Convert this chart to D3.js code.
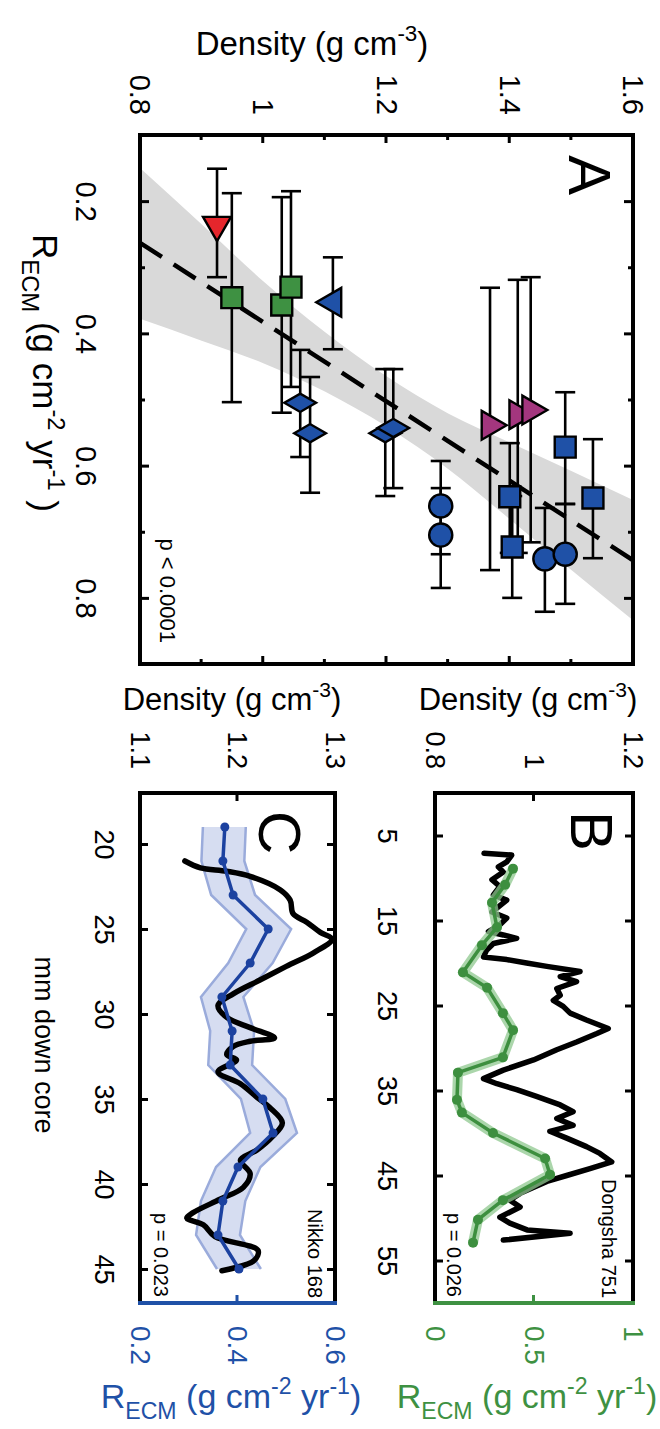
<!DOCTYPE html>
<html>
<head>
<meta charset="utf-8">
<script src="https://cdn.jsdelivr.net/npm/d3@7"></script>
<style>
  body { margin: 0; background: #fff; }
  text { font-family: "Liberation Sans", Arial, Helvetica, sans-serif; }
</style>
</head>
<body>
<svg id="fig" width="660" height="1429"></svg>
<script>
// ---------- panel A : R_ECM vs density, one point per core ----------
const denA   = [0.925, 0.949, 1.030, 1.045, 1.113, 1.060, 1.076, 1.198, 1.211, 1.288, 1.288, 1.368, 1.413, 1.434, 1.490, 1.535, 1.400, 1.404, 1.457, 1.490];
const rA     = [0.236, 0.346, 0.357, 0.330, 0.353, 0.505, 0.551, 0.551, 0.543, 0.661, 0.705, 0.539, 0.523, 0.516, 0.572, 0.649, 0.647, 0.723, 0.741, 0.734];
const rLoA   = [0.151, 0.188, 0.194, 0.185, 0.285, 0.425, 0.466, 0.454, 0.454, 0.593, 0.634, 0.331, 0.319, 0.315, 0.489, 0.560, 0.566, 0.646, 0.664, 0.658];
const rHiA   = [0.315, 0.504, 0.520, 0.481, 0.424, 0.587, 0.641, 0.646, 0.634, 0.734, 0.785, 0.758, 0.732, 0.716, 0.658, 0.740, 0.732, 0.800, 0.821, 0.809];
const shapeA = ["triD", "sq", "sq", "sq", "triL", "dia", "dia", "dia", "dia", "circ", "circ", "triR", "triR", "triR", "sq", "sq", "sq", "sq", "circ", "circ"];
const colorA = ["red", "green", "green", "green", "blue", "blue", "blue", "blue", "blue", "blue", "blue", "purple", "purple", "purple", "blue", "blue", "blue", "blue", "blue", "blue"];

// regression line and its confidence band
const fitDen  = [0.8, 1.6];
const fitR    = [0.263, 0.743];
const bandDen = [0.8, 0.9, 1.0, 1.1, 1.2, 1.3, 1.4, 1.5, 1.6];
const bandLo  = [0.150, 0.235, 0.321, 0.398, 0.465, 0.521, 0.565, 0.608, 0.652];
const bandHi  = [0.378, 0.411, 0.445, 0.488, 0.541, 0.605, 0.681, 0.758, 0.834];

// ---------- panel B : Dongsha 751 ----------
const depthB_den = [7.1, 7.3, 8.1, 8.7, 9.3, 10.2, 11.0, 12.0, 12.6, 13.4, 14.0, 14.7, 15.5, 16.3, 16.7, 17.1, 17.7, 18.5, 19.3, 19.6, 20.0, 20.4, 21.0, 21.6, 22.2, 23.0, 23.8, 24.4, 25.1, 25.9, 26.7, 27.7, 28.3, 29.3, 30.2, 31.4, 32.6, 33.6, 34.2, 34.9, 35.7, 36.7, 37.5, 38.3, 39.1, 39.8, 40.6, 41.6, 42.4, 43.4, 44.2, 45.0, 45.7, 47.1, 47.9, 48.7, 49.9, 50.6, 51.4, 51.8, 52.6];
const densB      = [0.899, 0.955, 0.945, 0.928, 0.938, 0.915, 0.931, 0.918, 0.945, 0.928, 0.915, 0.945, 0.931, 0.908, 0.938, 0.965, 0.918, 0.904, 0.898, 0.945, 0.985, 1.026, 1.093, 1.053, 1.086, 1.046, 1.053, 1.039, 1.059, 1.073, 1.106, 1.150, 1.127, 1.086, 1.046, 0.999, 0.938, 0.898, 0.925, 0.965, 1.005, 1.053, 1.079, 1.046, 1.079, 1.032, 1.066, 1.106, 1.133, 1.157, 1.113, 1.066, 1.026, 0.972, 0.951, 0.972, 0.931, 0.951, 0.986, 1.073, 0.938];
const depthB_r   = [8.9, 10.8, 12.9, 15.8, 17.9, 21.1, 22.9, 25.9, 27.9, 31.1, 32.9, 36.1, 37.6, 40.0, 43.0, 44.9, 47.9, 50.2, 52.9];
const rB         = [0.394, 0.354, 0.288, 0.313, 0.237, 0.141, 0.263, 0.343, 0.394, 0.343, 0.116, 0.111, 0.136, 0.293, 0.556, 0.581, 0.343, 0.217, 0.192];

// ---------- panel C : Nikko 168 ----------
const depthC_den = [21.0, 21.4, 21.6, 21.9, 22.7, 23.3, 24.1, 24.6, 25.2, 25.6, 26.4, 27.2, 28.0, 28.8, 29.5, 30.2, 30.8, 31.4, 31.6, 31.9, 32.4, 32.7, 33.4, 34.1, 34.9, 35.5, 36.4, 37.2, 38.0, 38.6, 39.4, 40.2, 40.9, 41.7, 42.0, 42.4, 43.1, 43.9, 44.5, 45.1];
const densC      = [1.146, 1.162, 1.189, 1.213, 1.244, 1.254, 1.257, 1.271, 1.285, 1.297, 1.278, 1.250, 1.223, 1.196, 1.180, 1.189, 1.213, 1.238, 1.213, 1.196, 1.189, 1.199, 1.180, 1.203, 1.220, 1.233, 1.246, 1.236, 1.220, 1.203, 1.213, 1.206, 1.182, 1.154, 1.148, 1.165, 1.177, 1.221, 1.217, 1.184];
const depthC_r   = [19, 21, 23, 25, 27, 29, 31, 33, 35, 37, 39, 41, 43, 45];
const rC         = [0.374, 0.370, 0.391, 0.463, 0.426, 0.368, 0.389, 0.385, 0.452, 0.473, 0.401, 0.370, 0.360, 0.403];
const rLoC       = [0.329, 0.326, 0.346, 0.418, 0.381, 0.325, 0.344, 0.340, 0.407, 0.426, 0.356, 0.325, 0.315, 0.358];
const rHiC       = [0.417, 0.414, 0.436, 0.510, 0.472, 0.412, 0.434, 0.430, 0.498, 0.522, 0.447, 0.416, 0.405, 0.448];

// tick values
const denTicksA  = [0.8, 1, 1.2, 1.4, 1.6];
const denMinorA  = [0.9, 1.1, 1.3, 1.5];
const rTicksA    = [0.2, 0.4, 0.6, 0.8];
const rMinorA    = [0.3, 0.5, 0.7];
const depthTicksB = [5, 15, 25, 35, 45, 55];
const depthTicksC = [20, 25, 30, 35, 40, 45];
const denTicksB  = [0.8, 1, 1.2];
const denTicksC  = [1.1, 1.2, 1.3];
const rTicksB    = [0, 0.5, 1];
const rTicksC    = [0.2, 0.4, 0.6];

const col = { red: "#e5262c", green: "#3e9142", blue: "#1f51a7", purple: "#a3367e" };
const greenLine = "#3d8f3f", blueLine = "#1c42a0";

const svg = d3.select("#fig");

// each panel is drawn in its original (landscape) frame and turned 90 deg clockwise
function panel(x0, y0, x1, y1) {
  const g = svg.append("g").attr("transform", `translate(${x1},${y0}) rotate(90)`);
  return { g: g, w: y1 - y0, h: x1 - x0 };
}

function addAxis(g, axis, pos, vals, size, fmt, pad, fs, color) {
  const a = g.append("g")
    .attr("transform", pos)
    .call(axis.tickValues(vals).tickSize(-size).tickPadding(pad).tickFormat(fmt ? fmt : ""));
  a.select(".domain").remove();
  a.selectAll("line").attr("stroke", color || "#000").attr("stroke-width", 3);
  a.selectAll("text").attr("font-size", fs).attr("fill", color || "#000");
  return a;
}

// text with sub/superscripts
function richText(sel, parts, fs) {
  let shift = 0;
  parts.forEach(p => {
    const target = p[1] === "sub" ? fs * 0.32 : p[1] === "sup" ? -fs * 0.42 : 0;
    sel.append("tspan")
      .attr("dy", target - shift)
      .attr("font-size", p[1] ? fs * 0.68 : fs)
      .text(p[0]);
    shift = target;
  });
  return sel;
}
const unitsR = [["R"], ["ECM", "sub"], [" (g cm"], ["-2", "sup"], [" yr"], ["-1", "sup"], [")"]];
const unitsD = [["Density (g cm"], ["-3", "sup"], [")"]];

// =========================== Panel A ===========================
const A = panel(140, 135, 633, 664);
const xR = d3.scaleLinear().domain([0.1, 0.9]).range([0, A.w]);
const yDA = d3.scaleLinear().domain([0.8, 1.6]).range([A.h, 0]);

A.g.append("clipPath").attr("id", "clipA")
  .append("rect").attr("width", A.w).attr("height", A.h);

A.g.append("path")
  .datum(bandDen.map((d, i) => [d, bandLo[i], bandHi[i]]))
  .attr("clip-path", "url(#clipA)")
  .attr("fill", "#d9d9d9")
  .attr("d", d3.area().curve(d3.curveMonotoneY)
    .y(d => yDA(d[0])).x0(d => xR(d[1])).x1(d => xR(d[2])));

A.g.append("path")
  .datum(fitDen.map((d, i) => [d, fitR[i]]))
  .attr("clip-path", "url(#clipA)")
  .attr("fill", "none")
  .attr("stroke", "#000")
  .attr("stroke-width", 4.5)
  .attr("stroke-dasharray", "26,14")
  .attr("d", d3.line().x(d => xR(d[1])).y(d => yDA(d[0])));

// error bars
const eb = A.g.append("g").attr("stroke", "#000").attr("stroke-width", 2.6);
denA.forEach((d, i) => {
  const y = yDA(d);
  eb.append("line").attr("x1", xR(rLoA[i])).attr("x2", xR(rHiA[i])).attr("y1", y).attr("y2", y);
  [rLoA[i], rHiA[i]].forEach(v => {
    eb.append("line").attr("x1", xR(v)).attr("x2", xR(v)).attr("y1", y - 10).attr("y2", y + 10);
  });
});

// markers
const symType = { sq: d3.symbolSquare, circ: d3.symbolCircle, dia: d3.symbolDiamond, triR: d3.symbolTriangle, triL: d3.symbolTriangle, triD: d3.symbolTriangle };
const symRot  = { sq: 0, circ: 0, dia: 0, triR: 0, triL: 180, triD: 90 };
const symSize = { sq: 440, circ: 420, dia: 290, triR: 360, triL: 360, triD: 340 };
A.g.append("g").selectAll("path")
  .data(denA.map((d, i) => ({ d: d, r: rA[i], s: shapeA[i], c: colorA[i] })))
  .join("path")
  .attr("transform", p => `translate(${xR(p.r)},${yDA(p.d)}) rotate(${symRot[p.s]})`)
  .attr("d", p => d3.symbol().type(symType[p.s]).size(symSize[p.s])())
  .attr("fill", p => col[p.c])
  .attr("stroke", "#000")
  .attr("stroke-width", 2.4);

// axes of A
const fmt = d => String(d);
addAxis(A.g, d3.axisLeft(yDA), "translate(0,0)", denTicksA, 8, fmt, 20, 29);
addAxis(A.g, d3.axisLeft(yDA), "translate(0,0)", denMinorA, 5, null, 0, 29);
addAxis(A.g, d3.axisRight(yDA), `translate(${A.w},0)`, denTicksA, 8, null, 0, 29);
addAxis(A.g, d3.axisRight(yDA), `translate(${A.w},0)`, denMinorA, 5, null, 0, 29);
addAxis(A.g, d3.axisBottom(xR), `translate(0,${A.h})`, rTicksA, 9, fmt, 43, 29);
addAxis(A.g, d3.axisBottom(xR), `translate(0,${A.h})`, rMinorA, 5, null, 0, 29);
addAxis(A.g, d3.axisTop(xR), "translate(0,0)", rTicksA, 9, null, 0, 29);
addAxis(A.g, d3.axisTop(xR), "translate(0,0)", rMinorA, 5, null, 0, 29);

A.g.append("rect").attr("width", A.w).attr("height", A.h)
  .attr("fill", "none").attr("stroke", "#000").attr("stroke-width", 4);

A.g.append("text").attr("x", 20).attr("y", 64).attr("font-size", 60).text("A");
A.g.append("text").attr("x", 508).attr("y", 473).attr("text-anchor", "end")
  .attr("font-size", 22).text("p < 0.0001");
richText(A.g.append("text").attr("x", 238).attr("y", 600).attr("text-anchor", "middle"),
  [["R"], ["ECM", "sub"], [" (g cm"], ["-2", "sup"], [" yr"], ["-1", "sup"], [" )"]], 35);

richText(svg.append("text").attr("x", 312).attr("y", 55).attr("text-anchor", "middle"), unitsD, 33);

// ==================== Panels B and C (depth profiles) ====================
function profile(box, depthDom, denDom, rDom, depthTicks, denTicks, rTicks, rColor, depthPad, label, site, pText) {
  const P = panel(box[0], box[1], box[2], box[3]);
  P.x = d3.scaleLinear().domain(depthDom).range([0, P.w]);
  P.yD = d3.scaleLinear().domain(denDom).range([P.h, 0]);
  P.yR = d3.scaleLinear().domain(rDom).range([P.h, 0]);

  addAxis(P.g, d3.axisBottom(P.x), `translate(0,${P.h})`, depthTicks, 8, fmt, depthPad, 27);
  addAxis(P.g, d3.axisTop(P.x), "translate(0,0)", depthTicks, 8, null, 0, 27);
  addAxis(P.g, d3.axisLeft(P.yD), "translate(0,0)", denTicks, 8, fmt, 24, 27);
  addAxis(P.g, d3.axisRight(P.yR), `translate(${P.w},0)`, rTicks, 8, fmt, 23, 28, rColor);

  const fr = P.g.append("g").attr("stroke-width", 4).attr("stroke-linecap", "square");
  fr.append("line").attr("x1", 0).attr("x2", P.w).attr("y1", 0).attr("y2", 0).attr("stroke", "#000");
  fr.append("line").attr("x1", 0).attr("x2", P.w).attr("y1", P.h).attr("y2", P.h).attr("stroke", "#000");
  fr.append("line").attr("x1", 0).attr("x2", 0).attr("y1", 0).attr("y2", P.h).attr("stroke", "#000");
  fr.append("line").attr("x1", P.w).attr("x2", P.w).attr("y1", 0).attr("y2", P.h).attr("stroke", rColor);

  P.g.append("text").attr("x", 18).attr("y", label[1]).attr("font-size", 60).text(label[0]);
  P.g.append("text").attr("x", 505).attr("y", site[1]).attr("text-anchor", "end")
    .attr("font-size", 20).text(site[0]);
  P.g.append("text").attr("x", 504).attr("y", pText[1]).attr("text-anchor", "end")
    .attr("font-size", 20).text(pText[0]);
  return P;
}

// ---- B ----
const B = profile([435, 793, 633, 1303], [0, 60], [0.8, 1.2], [0, 1],
  depthTicksB, denTicksB, rTicksB, col.green, 38, ["B", 62], ["Dongsha 751", 31], ["p = 0.026", 186]);

B.g.append("path")
  .datum(depthB_den.map((d, i) => [d, densB[i]]))
  .attr("fill", "none").attr("stroke", "#000").attr("stroke-width", 5.5)
  .attr("stroke-linejoin", "round").attr("stroke-linecap", "round")
  .attr("d", d3.line().x(d => B.x(d[0])).y(d => B.yD(d[1])));

const lineRB = d3.line().x(d => B.x(d[0])).y(d => B.yR(d[1]));
const ptsB = depthB_r.map((d, i) => [d, rB[i]]);
B.g.append("path").datum(ptsB)
  .attr("fill", "none").attr("stroke", "#8fc88f").attr("stroke-width", 10).attr("stroke-opacity", 0.75)
  .attr("stroke-linejoin", "round").attr("d", lineRB);
B.g.append("path").datum(ptsB)
  .attr("fill", "none").attr("stroke", greenLine).attr("stroke-width", 3.5)
  .attr("stroke-linejoin", "round").attr("d", lineRB);
B.g.append("g").selectAll("circle").data(ptsB).join("circle")
  .attr("cx", d => B.x(d[0])).attr("cy", d => B.yR(d[1])).attr("r", 5)
  .attr("fill", greenLine);

// ---- C ----
const C = profile([140, 793, 335, 1303], [17, 47], [1.1, 1.3], [0.2, 0.6],
  depthTicksC, denTicksC, rTicksC, col.blue, 26, ["C", 76], ["Nikko 168", 27], ["p = 0.023", 181]);

const bandC = depthC_r.map((d, i) => [d, rLoC[i], rHiC[i]]);
C.g.append("path").datum(bandC)
  .attr("fill", "#d6ddf1")
  .attr("d", d3.area().x(d => C.x(d[0])).y0(d => C.yR(d[1])).y1(d => C.yR(d[2])));
[1, 2].forEach(k => {
  C.g.append("path").datum(bandC)
    .attr("fill", "none").attr("stroke", "#9aabdb").attr("stroke-width", 2.5)
    .attr("d", d3.line().x(d => C.x(d[0])).y(d => C.yR(d[k])));
});

C.g.append("path")
  .datum(depthC_den.map((d, i) => [d, densC[i]]))
  .attr("fill", "none").attr("stroke", "#000").attr("stroke-width", 5.5)
  .attr("stroke-linejoin", "round").attr("stroke-linecap", "round")
  .attr("d", d3.line().curve(d3.curveCatmullRom).x(d => C.x(d[0])).y(d => C.yD(d[1])));

const ptsC = depthC_r.map((d, i) => [d, rC[i]]);
C.g.append("path").datum(ptsC)
  .attr("fill", "none").attr("stroke", blueLine).attr("stroke-width", 3.5)
  .attr("stroke-linejoin", "round")
  .attr("d", d3.line().x(d => C.x(d[0])).y(d => C.yR(d[1])));
C.g.append("g").selectAll("circle").data(ptsC).join("circle")
  .attr("cx", d => C.x(d[0])).attr("cy", d => C.yR(d[1])).attr("r", 4.5)
  .attr("fill", blueLine);

C.g.append("text").attr("x", 252).attr("y", 300).attr("text-anchor", "middle")
  .attr("font-size", 27).text("mm down core");

// page-horizontal axis titles
richText(svg.append("text").attr("x", 232).attr("y", 710).attr("text-anchor", "middle"), unitsD, 31);
richText(svg.append("text").attr("x", 528).attr("y", 710).attr("text-anchor", "middle"), unitsD, 31);
richText(svg.append("text").attr("x", 231).attr("y", 1408).attr("text-anchor", "middle").attr("fill", col.blue), unitsR, 34);
richText(svg.append("text").attr("x", 527).attr("y", 1408).attr("text-anchor", "middle").attr("fill", col.green), unitsR, 34);
</script>
</body>
</html>
